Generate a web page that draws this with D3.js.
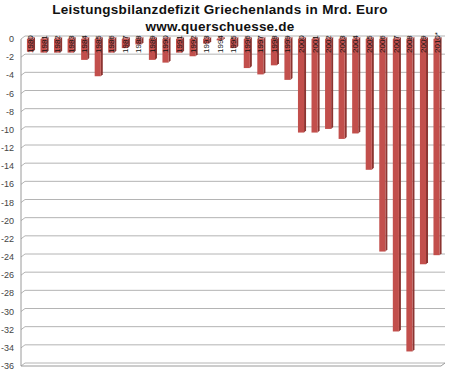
<!DOCTYPE html>
<html>
<head>
<meta charset="utf-8">
<script src="https://cdn.jsdelivr.net/npm/d3@7"></script>
<style>
  body { margin: 0; background: #fff; }
  svg { display: block; }
</style>
</head>
<body>
<div id="chart"></div>
<script>
// chart data
var title = "Leistungsbilanzdefizit  Griechenlands  in Mrd. Euro";
var subtitle = "www.querschuesse.de";
var years = ["1980","1981","1982","1983","1984","1985","1986","1987","1988","1989",
             "1990","1991","1992","1993","1994","1995","1996","1997","1998","1999",
             "2000","2001","2002","2003","2004","2005","2006","2007","2008","2009","2010*"];
var deficit = [-1.4, -1.5, -1.5, -1.5, -2.3, -4.1, -1.5, -1.0, -0.6, -2.3,
               -2.6, -1.5, -1.9, -0.5, -0.15, -1.0, -3.2, -3.9, -2.9, -4.5,
               -10.3, -10.3, -9.9, -11.0, -10.4, -14.4, -23.4, -32.2, -34.4, -24.8, -23.8];
var yTicks = [0, -2, -4, -6, -8, -10, -12, -14, -16, -18, -20, -22, -24, -26, -28, -30, -32, -34, -36];

var width = 450, height = 372;
var depth = {dx: 4, dy: 3};     // offset of the back wall
var barDepth = {dx: 2, dy: 2};  // 3d depth of the columns

var svg = d3.select("#chart")
  .append("svg")
    .attr("width", width)
    .attr("height", height);

// scales
var x = d3.scaleBand()
  .domain(years)
  .range([23, 443.5])
  .paddingInner(0.55)
  .paddingOuter(0.29);

var y = d3.scaleLinear()
  .domain([0, -36])
  .range([39, 366]);

// titles
svg.append("text")
  .attr("x", 220)
  .attr("y", 13.5)
  .attr("text-anchor", "middle")
  .attr("font-family", "Liberation Sans, Arial, sans-serif")
  .attr("font-weight", "bold")
  .attr("font-size", "13.5px")
  .attr("letter-spacing", "0.3px")
  .attr("fill", "#111")
  .text(title);

svg.append("text")
  .attr("x", 220)
  .attr("y", 30.5)
  .attr("text-anchor", "middle")
  .attr("font-family", "Liberation Sans, Arial, sans-serif")
  .attr("font-weight", "bold")
  .attr("font-size", "13.5px")
  .attr("letter-spacing", "0.2px")
  .attr("fill", "#111")
  .text(subtitle);

var x0 = 21, x1 = 441;

// gridlines on the back wall (with the slanted side wall part)
var grid = svg.append("g");
grid.selectAll("path.grid")
  .data(yTicks)
  .enter()
  .append("path")
    .attr("class", "grid")
    .attr("d", function(d) {
      var yy = y(d);
      return "M" + x0 + "," + yy + "L" + (x0 + depth.dx) + "," + (yy - depth.dy) +
             "L" + (x1 + depth.dx) + "," + (yy - depth.dy);
    })
    .attr("fill", "none")
    .attr("stroke", "#b4b4b4")
    .attr("stroke-width", 1);

// floor front edge
svg.append("path")
  .attr("d", "M" + x0 + "," + y(-36) + "L" + x1 + "," + y(-36) +
             "L" + (x1 + depth.dx) + "," + (y(-36) - depth.dy))
  .attr("fill", "none")
  .attr("stroke", "#9a9a9a");

// left axis
svg.append("line")
  .attr("x1", x0).attr("x2", x0)
  .attr("y1", y(0)).attr("y2", y(-36))
  .attr("stroke", "#9a9a9a");

svg.append("g")
  .selectAll("text")
  .data(yTicks)
  .enter()
  .append("text")
    .attr("x", 14)
    .attr("y", function(d) { return y(d) + 3; })
    .attr("text-anchor", "end")
    .attr("font-family", "Liberation Sans, Arial, sans-serif")
    .attr("font-size", "9px")
    .attr("fill", "#444")
    .text(function(d) { return d; });

// columns
var bars = svg.append("g")
  .selectAll("g")
  .data(years)
  .enter()
  .append("g");

var bw = x.bandwidth();

// side face
bars.append("path")
  .attr("d", function(d, i) {
    var bx = x(d) + bw, y0 = y(0), y1 = y(deficit[i]);
    return "M" + bx + "," + y0 + "L" + (bx + barDepth.dx) + "," + (y0 - barDepth.dy) +
           "L" + (bx + barDepth.dx) + "," + (y1 - barDepth.dy) + "L" + bx + "," + y1 + "Z";
  })
  .attr("fill", "#8c3431");

// top face
bars.append("path")
  .attr("d", function(d) {
    var bx = x(d), y0 = y(0);
    return "M" + bx + "," + y0 + "L" + (bx + barDepth.dx) + "," + (y0 - barDepth.dy) +
           "L" + (bx + bw + barDepth.dx) + "," + (y0 - barDepth.dy) + "L" + (bx + bw) + "," + y0 + "Z";
  })
  .attr("fill", "#d88a87");

// front face
bars.append("rect")
  .attr("x", function(d) { return x(d); })
  .attr("y", y(0))
  .attr("width", bw)
  .attr("height", function(d, i) { return y(deficit[i]) - y(0); })
  .attr("fill", "#c24f4c");

// year labels, rotated inside the columns
bars.append("text")
  .attr("transform", function(d) {
    return "translate(" + (x(d) + bw / 2 + 3) + "," + 53 + ") rotate(-90)";
  })
  .attr("font-family", "Liberation Sans, Arial, sans-serif")
  .attr("font-size", "8px")
  .attr("fill", "#111")
  .text(function(d) { return d; });
</script>
</body>
</html>
